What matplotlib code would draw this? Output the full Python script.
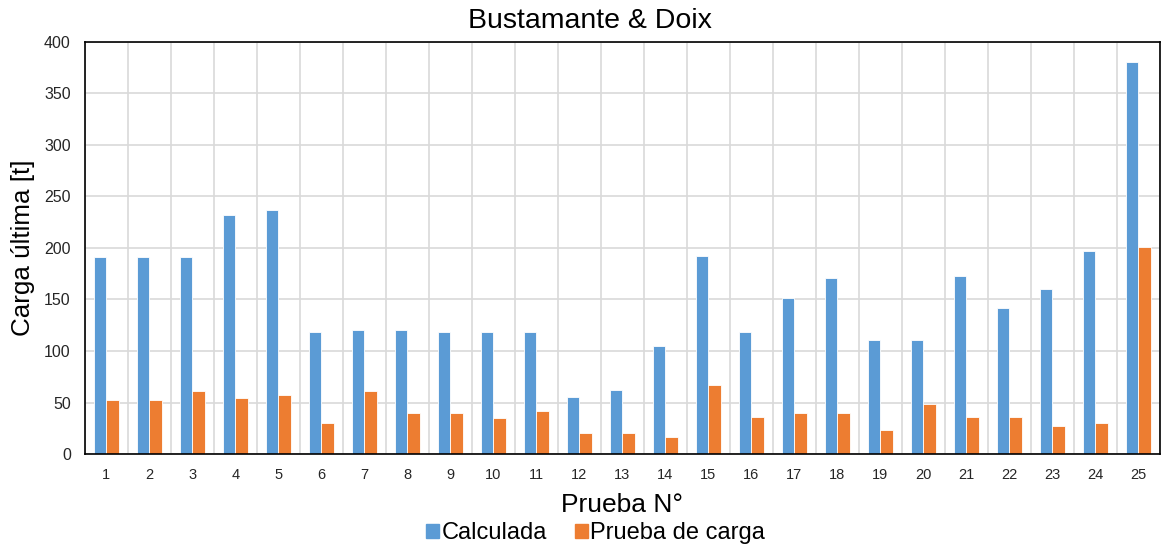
import numpy as np
import matplotlib.pyplot as plt
from matplotlib.patches import Patch

plt.rcParams['font.family'] = ['Liberation Sans', 'DejaVu Sans']

# Prueba N° 1..25
pruebas = list(range(1, 26))
calculada = [191, 191, 191, 232, 237, 118, 120, 120, 118, 118,
             118, 55, 62, 105, 192, 118, 151, 171, 111, 111,
             173, 142, 160, 197, 381]
prueba_carga = [52, 52, 61, 54, 57, 30, 61, 40, 40, 35,
                42, 20, 20, 17, 67, 36, 40, 40, 23, 49,
                36, 36, 27, 30, 201]

c_blue = '#5B9BD5'
c_orange = '#ED7D31'

fig = plt.figure(figsize=(11.61, 5.52), dpi=100)
ax = fig.add_axes([0.073, 0.1775, 0.926, 0.7465])

x = np.arange(len(pruebas))
w = 0.29
ax.bar(x - w / 2, calculada, w, color=c_blue, edgecolor='white', linewidth=0.6, zorder=3)
ax.bar(x + w / 2, prueba_carga, w, color=c_orange, edgecolor='white', linewidth=0.6, zorder=3)

ax.set_xlim(-0.5, len(pruebas) - 0.5)
ax.set_ylim(0, 400)
ax.set_yticks(np.arange(0, 401, 50))
ax.set_xticks(x)
ax.set_xticklabels([str(p) for p in pruebas], fontsize=10.5, color='#262626')
ax.tick_params(axis='y', labelsize=11.5, labelcolor='#262626', pad=10)
ax.tick_params(axis='x', pad=10)
ax.tick_params(length=0)

# grid: horizontal at ticks, vertical between categories
ax.set_xticks(np.arange(-0.5, len(pruebas)), minor=True)
ax.grid(axis='y', color='#d9d9d9', linewidth=1.2, zorder=0)
ax.grid(axis='x', which='minor', color='#d9d9d9', linewidth=1.2, zorder=0)
ax.tick_params(which='minor', length=0)

for s in ax.spines.values():
    s.set_color('black')
    s.set_linewidth(1.2)
    s.set_zorder(4)

fig.text(0.508, 0.962, 'Bustamante & Doix', fontsize=20.5, ha='center', va='center')

ax.set_ylabel('Carga última [t]', fontsize=18.7)
ax.yaxis.set_label_coords(-0.057, 0.5)
ax.yaxis.label.set_va('center')
ax.set_xlabel('Prueba N°', fontsize=19)
ax.xaxis.set_label_coords(0.5, -0.124)
ax.xaxis.label.set_va('center')

handles = [Patch(color=c_blue, label='Calculada'),
           Patch(color=c_orange, label='Prueba de carga')]
fig.legend(handles=handles, loc='center', bbox_to_anchor=(0.513, 0.034), ncol=2,
           frameon=False, fontsize=17, handlelength=0.55, handleheight=0.55,
           handletextpad=0.1, columnspacing=1.2)

fig.savefig('out.png', dpi=100)
